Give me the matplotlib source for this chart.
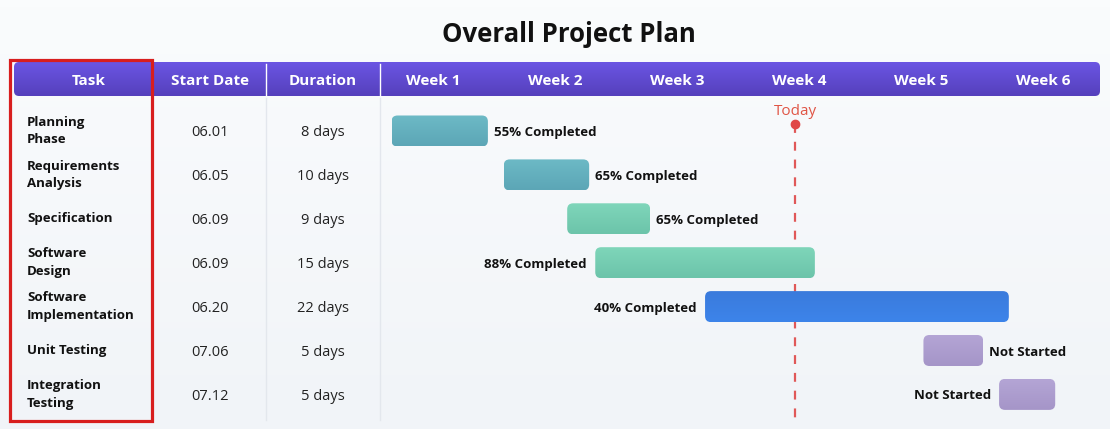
import numpy as np
import matplotlib
matplotlib.use("Agg")
import matplotlib.pyplot as plt
from matplotlib.colors import LinearSegmentedColormap
from matplotlib.patches import FancyBboxPatch, Rectangle

plt.rcParams['font.family'] = ['Open Sans', 'DejaVu Sans']

# ---- data ----
tasks = ["Planning\nPhase", "Requirements\nAnalysis", "Specification", "Software\nDesign",
         "Software\nImplementation", "Unit Testing", "Integration\nTesting"]
start_dates = ["06.01", "06.05", "06.09", "06.09", "06.20", "07.06", "07.12"]
durations = ["8 days", "10 days", "9 days", "15 days", "22 days", "5 days", "5 days"]
weeks = ["Week 1", "Week 2", "Week 3", "Week 4", "Week 5", "Week 6"]
# bar extents in weeks (0 = start of Week 1)
bar_start = [0.16, 1.08, 1.60, 1.83, 2.73, 4.52, 5.14]
bar_end = [0.95, 1.78, 2.28, 3.63, 5.22, 5.01, 5.60]
status = ["55% Completed", "65% Completed", "65% Completed", "88% Completed",
          "40% Completed", "Not Started", "Not Started"]
label_side = ["right", "right", "right", "left", "left", "right", "left"]
bar_colors = [("#6dbac6", "#5ca6b6"), ("#6dbac6", "#5ca6b6"), ("#7fd6ba", "#6cc4aa"),
              ("#7fd6ba", "#6cc4aa"), ("#3a7bdc", "#3d84ea"), ("#b4a5d5", "#a595c8"),
              ("#b4a5d5", "#a595c8")]
today = 3.47

# layout helpers: pixel position -> data units
PX_W, PX_H = 122.0, 43.9
def X(p):
    return (p - 372) / PX_W
def Y(p):
    return (p - 131) / PX_H

fig = plt.figure(figsize=(11.1, 4.29), dpi=100)
ax = fig.add_axes([0, 0, 1, 1])
ax.axis('off')

def grad_box(x0, x1, y0, y1, c_top, c_bot, r_px, z):
    patch = FancyBboxPatch((x0, y0), x1 - x0, y1 - y0,
                           boxstyle="round,pad=0,rounding_size={}".format(r_px / PX_W),
                           mutation_aspect=PX_W / PX_H, fc='none', ec='none', zorder=z)
    ax.add_patch(patch)
    cmap = LinearSegmentedColormap.from_list('g', [c_top, c_bot])
    grad = np.linspace(0, 1, 64).reshape(-1, 1)
    im = ax.imshow(grad, cmap=cmap, extent=(x0, x1, y1, y0), aspect='auto',
                   origin='upper', zorder=z, interpolation='bilinear')
    im.set_clip_path(patch)

# background
bg = LinearSegmentedColormap.from_list('bg', ['#fafcfd', '#f1f4f8'])
ax.imshow(np.linspace(0, 1, 64).reshape(-1, 1), cmap=bg, extent=(X(0), X(1110), Y(429), Y(0)),
          aspect='auto', origin='upper', zorder=0)

# title
ax.text(X(569), Y(34), "Overall Project Plan", ha='center', va='center',
        fontsize=18.5, fontweight='bold', color='#111111')

# header bar
grad_box(X(14), X(1100), Y(62), Y(96), '#6b55e3', '#5540bc', 5, 2)
for sx in [266, 380]:
    ax.plot([X(sx), X(sx)], [Y(64), Y(95)], color='white', lw=1, zorder=3)
    ax.plot([X(sx), X(sx)], [Y(98), Y(420)], color='#e3e7ed', lw=1, zorder=1)

hdr_y = Y(79.5)
for txt, px in [("Task", 89), ("Start Date", 210), ("Duration", 323)]:
    ax.text(X(px), hdr_y, txt, ha='center', va='center_baseline', color='white',
            fontsize=11, fontweight='bold', zorder=4)
for i, w in enumerate(weeks):
    ax.text(i + 0.5, hdr_y, w, ha='center', va='center_baseline', color='white',
            fontsize=11, fontweight='bold', zorder=4)

# table rows
for i in range(len(tasks)):
    ax.text(X(27), i, tasks[i], ha='left', va='center', fontsize=9.5,
            fontweight='bold', color='#111111', linespacing=1.45, zorder=4)
    ax.text(X(210), i, start_dates[i], ha='center', va='center_baseline', fontsize=10.5,
            color='#222222', zorder=4)
    ax.text(X(323), i, durations[i], ha='center', va='center_baseline', fontsize=10.5,
            color='#222222', zorder=4)

# today line
ax.plot([today, today], [Y(124), Y(420)], color='#e05858', lw=1.6,
        dashes=(4, 4), zorder=3)
ax.plot(today, Y(124), 'o', color='#e04848', ms=6, zorder=6)
ax.text(today, Y(109.5), "Today", ha='center', va='center_baseline', fontsize=11,
        color='#e05545', zorder=6)

# bars
bh = 31 / PX_H
gap = 6 / PX_W
for i in range(len(tasks)):
    c_top, c_bot = bar_colors[i]
    grad_box(bar_start[i], bar_end[i], i - bh / 2, i + bh / 2, c_top, c_bot, 6, 5)
    if label_side[i] == "right":
        ax.text(bar_end[i] + gap, i, status[i], ha='left', va='center_baseline',
                fontsize=9.5, fontweight='bold', color='#111111', zorder=6)
    else:
        ax.text(bar_start[i] - gap * 1.4, i, status[i], ha='right', va='center_baseline',
                fontsize=9.5, fontweight='bold', color='#111111', zorder=6)

# highlight box round the task column
ax.add_patch(Rectangle((X(10), Y(60)), X(152) - X(10), Y(421) - Y(60), fill=False,
                       ec='#d81e1e', lw=2.3, zorder=10))

ax.set_xlim(X(0), X(1110))
ax.set_ylim(Y(429), Y(0))

fig.savefig("out.png", dpi=100)
